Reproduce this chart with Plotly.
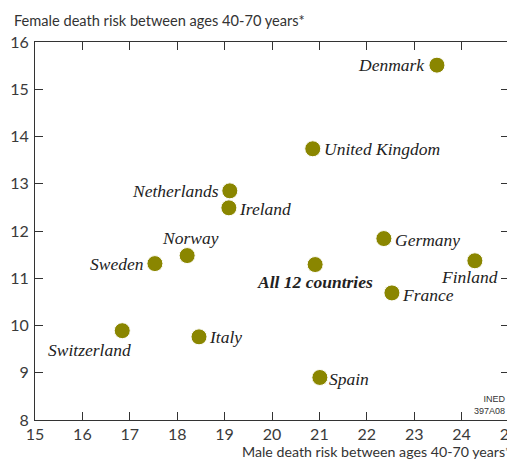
import plotly.graph_objects as go

countries = ["Denmark", "United Kingdom", "Netherlands", "Ireland", "Norway", "Sweden",
             "Switzerland", "Italy", "All 12 countries", "Germany", "Finland", "France", "Spain"]
male_risk = [23.48, 20.86, 19.11, 19.09, 18.21, 17.53, 16.84, 18.46, 20.91, 22.36, 24.28, 22.53, 21.01]
female_risk = [15.51, 13.74, 12.85, 12.49, 11.48, 11.31, 9.89, 9.76, 11.29, 11.84, 11.37, 10.69, 8.90]

x_ticks = list(range(15, 26))
y_ticks = list(range(8, 17))

# label placement: (xanchor, yanchor, xshift, yshift)
placement = {
    "Denmark": ("right", "middle", -10, 0),
    "United Kingdom": ("left", "middle", 9, 0),
    "Netherlands": ("right", "middle", -9, 0),
    "Ireland": ("left", "middle", 8, -1),
    "Norway": ("center", "bottom", 3, 6),
    "Sweden": ("right", "middle", -9, 0),
    "Switzerland": ("center", "top", -33, -7),
    "Italy": ("left", "middle", 8, 0),
    "All 12 countries": ("center", "top", 0, -5),
    "Germany": ("left", "middle", 9, -1),
    "Finland": ("center", "top", -5, -4),
    "France": ("left", "middle", 8, -2),
    "Spain": ("left", "middle", 7, -2),
}

olive = "#8a8600"
fig = go.Figure()
fig.add_trace(go.Scatter(
    x=male_risk, y=female_risk, mode="markers",
    marker=dict(size=16, color=olive, line=dict(width=1, color="#ffffff")),
    hoverinfo="text", text=countries, showlegend=False,
))

for c, xv, yv in zip(countries, male_risk, female_risk):
    xa, ya, xs, ys = placement[c]
    label = f"<b><i>{c}</i></b>" if c.startswith("All") else f"<i>{c}</i>"
    fig.add_annotation(x=xv, y=yv, text=label, showarrow=False,
                       xanchor=xa, yanchor=ya, xshift=xs, yshift=ys,
                       font=dict(family="Liberation Serif", size=17.5, color="#222222"))

axis_common = dict(showgrid=False, zeroline=False, showline=True, linecolor="#333333",
                   linewidth=1, mirror="ticks", ticks="inside", ticklen=8,
                   tickcolor="#333333", tickwidth=1, automargin=False,
                   ticklabeloverflow="allow",
                   tickfont=dict(family="Lato", size=16, color="#3a3a3a"))

fig.update_xaxes(range=[15, 25], tickvals=x_ticks, ticktext=[str(v) for v in x_ticks],
                 ticklabelstandoff=0, **axis_common)
fig.update_yaxes(range=[8, 16], tickvals=y_ticks, ticktext=[str(v) for v in y_ticks],
                 ticklabelstandoff=2, **axis_common)

fig.add_annotation(xref="paper", yref="paper", x=-0.049, y=1.03, xanchor="left", yanchor="bottom",
                   text="Female death risk between ages 40-70 years*", showarrow=False,
                   font=dict(family="Lato", size=14.6, color="#333333"))
fig.add_annotation(xref="paper", yref="paper", x=1.0084, y=-0.055, xanchor="right", yanchor="top",
                   text="Male death risk between ages 40-70 years*", showarrow=False,
                   font=dict(family="Lato", size=14.2, color="#333333"))
fig.add_annotation(xref="paper", yref="paper", x=0.997, y=0.005, xanchor="right", yanchor="bottom",
                   text="INED<br>397A08", showarrow=False, align="right",
                   font=dict(family="Liberation Sans Narrow, Liberation Sans", size=9, color="#333333"))

# page body has an 8px margin, so size/offset the figure to compensate
fig.update_layout(
    width=507, height=453,
    margin=dict(l=27, r=6, t=34, b=41),
    paper_bgcolor="white", plot_bgcolor="white",
)

fig.write_html("out.html")
